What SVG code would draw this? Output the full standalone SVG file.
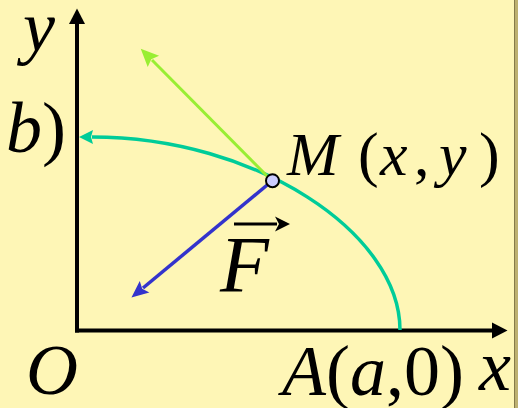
<svg xmlns="http://www.w3.org/2000/svg" width="518" height="408" viewBox="0 0 518 408">
<defs>
<style>
.lbl{font-family:"Liberation Serif","Times New Roman",serif;fill:#000}
.it{font-style:italic}
.axis{stroke:#000;stroke-width:4;fill:none}
</style>
<marker id="hBlack" markerUnits="userSpaceOnUse" orient="auto" markerWidth="20" markerHeight="20" refX="1" refY="0" viewBox="0 -10 20 20" overflow="visible"><path d="M0,-8 L15.5,0 L0,8 z" fill="#000"/></marker>
<marker id="hTeal" markerUnits="userSpaceOnUse" orient="auto" markerWidth="20" markerHeight="20" refX="1" refY="0" viewBox="0 -10 20 20" overflow="visible"><path d="M0,-7 L14,0 L0,7 L2,0 z" fill="#00CC99"/></marker>
<marker id="hLime" markerUnits="userSpaceOnUse" orient="auto" markerWidth="22" markerHeight="22" refX="2" refY="0" viewBox="0 -11 22 22" overflow="visible"><path d="M0,-8 L18,0 L0,8 L3,0 z" fill="#99EE33"/></marker>
<marker id="hBlue" markerUnits="userSpaceOnUse" orient="auto" markerWidth="22" markerHeight="22" refX="2" refY="0" viewBox="0 -11 22 22" overflow="visible"><path d="M0,-7.5 L17,0 L0,7.5 L3,0 z" fill="#3333CC"/></marker>
<marker id="hVec" markerUnits="userSpaceOnUse" orient="auto" markerWidth="20" markerHeight="20" refX="2" refY="0" viewBox="0 -10 20 20" overflow="visible"><path d="M0,-7.5 L15,0 L0,7.5 L4,0 z" fill="#000"/></marker>
</defs>
<rect x="0" y="0" width="518" height="408" fill="#FEF6B6"/>
<rect x="514" y="0" width="4" height="408" fill="#BDB070"/>
<line x1="514.5" y1="0" x2="514.5" y2="408" stroke="#857A4A" stroke-width="1"/>

<g id="connectors">
<path id="y-axis" class="axis" d="M77,332.5 L77,23" marker-end="url(#hBlack)"/>
<path id="x-axis" class="axis" d="M75,330.5 L493,330.5" marker-end="url(#hBlack)"/>
<path id="curve" d="M400,330 C400,233 256,137 92,137" fill="none" stroke="#00CC99" stroke-width="3.5" marker-end="url(#hTeal)"/>
<path id="tangent" d="M272,181 L152,60" fill="none" stroke="#99EE33" stroke-width="3" marker-end="url(#hLime)"/>
<path id="force" d="M272,181 L143,288" fill="none" stroke="#3333CC" stroke-width="3.5" marker-end="url(#hBlue)"/>
</g>

<g id="point-M">
<circle cx="272.5" cy="180.7" r="6.5" fill="#CCCCFF" stroke="#000" stroke-width="2"/>
<text class="lbl" font-size="62" y="175"><tspan class="it" x="287">M</tspan><tspan x="358">(</tspan><tspan class="it" x="380">x</tspan><tspan x="414">,</tspan><tspan class="it" x="439">y</tspan><tspan x="479">)</tspan></text>
</g>

<g id="label-F">
<text class="lbl it" font-size="80" x="220" y="292">F</text>
<path d="M234,224 L277,224" stroke="#000" stroke-width="3" fill="none" marker-end="url(#hVec)"/>
</g>

<g id="label-y"><text class="lbl it" font-size="72" x="23" y="51">y</text></g>
<g id="label-b"><text class="lbl" font-size="72" x="6" y="152"><tspan class="it">b</tspan>)</text></g>
<g id="label-O"><text class="lbl it" font-size="72" x="26" y="394">O</text></g>
<g id="label-A"><text class="lbl" font-size="72" x="282" y="395"><tspan class="it">A</tspan>(<tspan class="it">a</tspan>,0)</text></g>
<g id="label-x"><text class="lbl it" font-size="72" x="479" y="390">x</text></g>
</svg>
